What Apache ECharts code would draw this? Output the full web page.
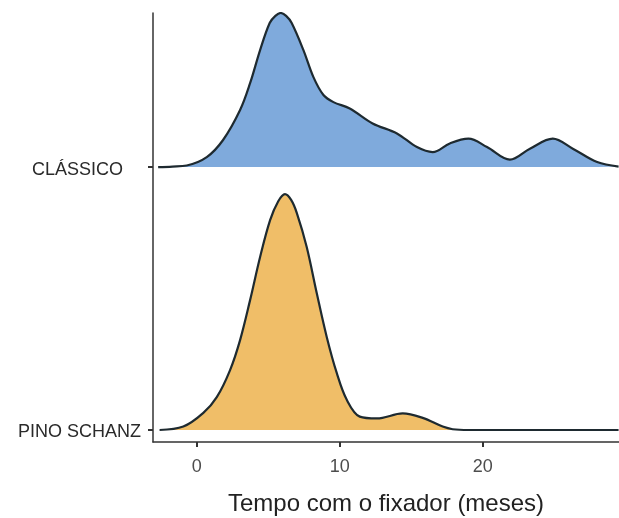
<!DOCTYPE html>
<html>
<head>
<meta charset="utf-8">
<script src="https://cdn.jsdelivr.net/npm/echarts@6/dist/echarts.min.js"></script>
<style>html,body{margin:0;padding:0;background:#fff;}#c{width:619px;height:518px;}</style>
</head>
<body>
<div id="c"></div>
<script>
// Categories (ridges), bottom to top
const categories = ['PINO SCHANZ', 'CLÁSSICO'];
const ridgeBaselines = [0, 1];
const xTicks = [0, 10, 20];
const xTitle = 'Tempo com o fixador (meses)';

// CLÁSSICO density (height in ridge units)
const classicoX = [-2.7, -1.7, -0.7, 0.7, 1.84, 3.03, 3.73, 4.43, 5.1, 5.5, 5.87, 6.25, 6.64, 7.46, 8.16, 8.86, 9.56, 10.7, 12.3, 14.0, 15.4, 16.5, 17.7, 19.0, 20.3, 21.9, 23.3, 24.9, 26.3, 28.0, 29.5];
const classicoY = [0.000, 0.002, 0.006, 0.038, 0.103, 0.217, 0.319, 0.445, 0.548, 0.575, 0.586, 0.575, 0.548, 0.445, 0.342, 0.274, 0.247, 0.223, 0.166, 0.128, 0.076, 0.057, 0.090, 0.108, 0.076, 0.028, 0.070, 0.108, 0.070, 0.019, 0.002];

// PINO SCHANZ density (height in ridge units)
const pinoX = [-2.6, -0.94, 0.46, 1.4, 2.33, 3.03, 3.73, 4.43, 5.13, 5.7, 6.17, 6.6, 7.0, 7.69, 8.39, 9.09, 9.79, 10.5, 11.4, 12.6, 14.4, 15.8, 17.2, 17.9, 19.0, 24.0, 29.5];
const pinoY = [0.000, 0.013, 0.065, 0.125, 0.228, 0.342, 0.494, 0.658, 0.798, 0.870, 0.897, 0.875, 0.825, 0.696, 0.521, 0.354, 0.217, 0.114, 0.051, 0.044, 0.063, 0.046, 0.013, 0.003, 0.000, 0.000, 0.000];

const seriesX = [pinoX, classicoX];
const seriesY = [pinoY, classicoY];
const fills = ['#F0BE68', '#7FAADC'];

const chart = echarts.init(document.getElementById('c'));
const series = categories.map((name, k) => ({
  name,
  type: 'line',
  smooth: 0.35,
  showSymbol: false,
  z: 2 + k,
  lineStyle: { color: '#1e2a30', width: 2.2 },
  areaStyle: { color: fills[k], opacity: 1, origin: ridgeBaselines[k] },
  data: seriesX[k].map((x, i) => [x, ridgeBaselines[k] + seriesY[k][i]])
}));

const font = 'Liberation Sans, Arial';
chart.setOption({
  animation: false,
  grid: { left: 153, right: 0, top: 13, bottom: 76, containLabel: false, outerBoundsMode: 'none' },
  xAxis: {
    type: 'value',
    min: -3.06,
    max: 29.53,
    name: xTitle,
    nameLocation: 'middle',
    nameGap: 50,
    nameTextStyle: { fontFamily: font, fontSize: 24, color: '#222' },
    axisLine: { show: true, onZero: false, lineStyle: { color: '#333', width: 1.5 } },
    axisTick: { show: true, length: 5, customValues: xTicks, lineStyle: { color: '#333', width: 2 } },
    axisLabel: { customValues: xTicks, fontFamily: font, fontSize: 18, color: '#4d4d4d', margin: 16 },
    splitLine: { show: false }
  },
  yAxis: {
    type: 'value',
    min: -0.0456,
    max: 1.586,
    axisLine: { show: true, onZero: false, lineStyle: { color: '#333', width: 1.5 } },
    axisTick: { show: true, length: 5, customValues: ridgeBaselines, lineStyle: { color: '#333', width: 2 } },
    axisLabel: {
      customValues: ridgeBaselines,
      formatter: v => v === 1 ? '{c|' + categories[1] + '}' : '{p|' + categories[0] + '}',
      rich: {
        c: { fontFamily: font, fontSize: 18, color: '#2a2a2a', padding: [6, 18, 0, 0] },
        p: { fontFamily: font, fontSize: 18, color: '#2a2a2a', padding: [4, 0, 0, 0] }
      },
      margin: 12
    },
    splitLine: { show: false }
  },
  series
});
</script>
</body>
</html>
